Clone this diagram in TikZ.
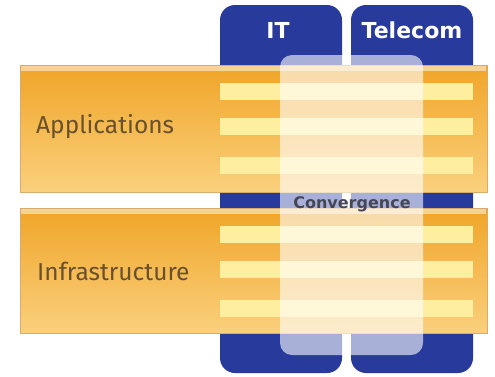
\documentclass[tikz,border=0pt]{standalone}
\usepackage{fontspec}
\setmainfont{Fira Sans}
\newfontfamily\headfont{DejaVu Sans}
\usetikzlibrary{positioning}
\definecolor{itblue}{RGB}{40,58,155}
\definecolor{bandtop}{RGB}{240,165,40}
\definecolor{bandbot}{RGB}{250,208,125}
\definecolor{bandedge}{RGB}{215,170,110}
\definecolor{barfill}{RGB}{253,238,160}
\definecolor{labeltext}{RGB}{105,80,45}
\definecolor{convtext}{RGB}{70,70,85}

\begin{document}
\begin{tikzpicture}[x=1pt, y=-1pt,
    column/.style={fill=itblue, rounded corners=15pt},
    band/.style={top color=bandtop, bottom color=bandbot, draw=bandedge, line width=0.6pt},
    bar/.style={fill=barfill},
    label/.style={font=\fontsize{24.5}{24.5}\selectfont, text=labeltext, anchor=base west, inner sep=0pt},
    head/.style={font=\headfont\fontsize{22}{22}\selectfont\bfseries, text=white, anchor=base, inner sep=0pt}]
    \useasboundingbox (0,0) rectangle (495,376);
    % the two columns
    \fill[column] (220,5) rectangle (342,373);
    \fill[column] (351,5) rectangle (473,373);
    \node[head] (it) at (278,38) {IT};
    \node[head] (telecom) at (412,38) {Telecom};
    % the two layers
    \shade[band] (20,65) rectangle (487,192);
    \shade[band] (20,208) rectangle (487,333);
    \fill[white, opacity=0.5] (21,66) rectangle (486,71);
    \fill[white, opacity=0.5] (21,209) rectangle (486,214);
    \foreach \y in {83,118,157,226,261,300}
        \fill[bar] (220,\y) rectangle (473,\y+17);
    \node[label] (apps) at (36,133) {Applications};
    \node[label] (infra) at (37,280) {Infrastructure};
    % convergence
    \fill[white, opacity=0.6, rounded corners=12pt] (280,55) rectangle (423,355);
    \node[font=\headfont\fontsize{16}{16}\selectfont\bfseries, text=convtext, anchor=base, inner sep=0pt] (conv) at (352,208) {Convergence};
\end{tikzpicture}
\end{document}
